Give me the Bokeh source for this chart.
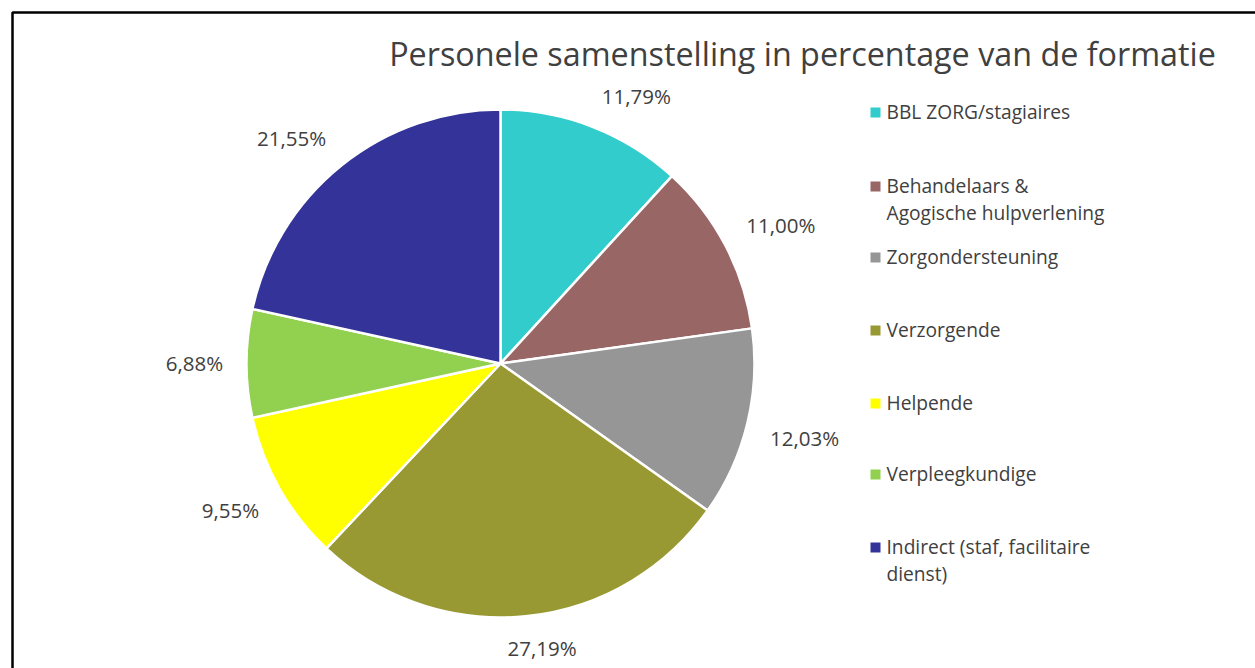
import math
from bokeh.plotting import figure
from bokeh.models import Range1d
from bokeh.core.properties import value
from bokeh.embed import file_html
from bokeh.resources import INLINE

title = "Personele samenstelling in percentage van de formatie"
categories = [
    "BBL ZORG/stagiaires",
    "Behandelaars &\nAgogische hulpverlening",
    "Zorgondersteuning",
    "Verzorgende",
    "Helpende",
    "Verpleegkundige",
    "Indirect (staf, facilitaire\ndienst)",
]
percentages = [11.79, 11.00, 12.03, 27.19, 9.55, 6.88, 21.55]
pct_labels = ["11,79%", "11,00%", "12,03%", "27,19%", "9,55%", "6,88%", "21,55%"]
colors = ["#33CCCC", "#996666", "#969696", "#999933", "#FFFF00", "#92D050", "#333399"]

FONT = "Open Sans"
TXT = "#404040"
W, H = 1255, 668

p = figure(width=W, height=H, output_backend="svg", toolbar_location=None,
           x_range=Range1d(0, W), y_range=Range1d(0, H),
           min_border=0, outline_line_color=None)
p.axis.visible = False
p.grid.visible = False

def Y(img_y):
    return H - img_y

# frame (cropped border)
p.line(x=[12, 12, 1270], y=[Y(690), Y(12), Y(12)], line_color="black", line_width=2.5)

# pie
cx, cy, r = 500, Y(363), 254
total = sum(percentages)
starts, ends, mids = [], [], []
acc = 0.0
for v in percentages:
    a0 = math.pi / 2 - 2 * math.pi * acc / total
    acc += v
    a1 = math.pi / 2 - 2 * math.pi * acc / total
    starts.append(a1)
    ends.append(a0)
    mids.append((a0 + a1) / 2)

p.wedge(x=[cx] * len(percentages), y=[cy] * len(percentages), radius=r,
        start_angle=starts, end_angle=ends, fill_color=colors,
        line_color="white", line_width=2.5)

# data labels outside end
def clip1(t):
    return max(-1.0, min(1.0, t))

lx, ly = [], []
for lab, m in zip(pct_labels, mids):
    hw = len(lab) * 6.0
    hh = 10
    u, v = math.cos(m), math.sin(m)
    R = r + 22
    lx.append(cx + R * u + hw * clip1(4 * u))
    ly.append(cy + R * v + hh * clip1(4 * v))
p.text(x=lx, y=ly, text=pct_labels, text_font=value(FONT), text_font_size="20.5px",
       text_color=TXT, text_align="center", text_baseline="middle")

# title
p.text(x=[802], y=[Y(52)], text=[title], text_font=value(FONT), text_font_size="32.3px",
       text_color=TXT, text_align="center", text_baseline="middle")

# legend
leg_y = [111, 185, 256, 329, 402, 473, 546]
sq_x, sq_y, tx, ty, tt = [], [], [], [], []
for cat, yy in zip(categories, leg_y):
    sq_x.append(875)
    sq_y.append(Y(yy + 1))
    for i, line in enumerate(cat.split("\n")):
        tx.append(886)
        ty.append(Y(yy + 27 * i))
        tt.append(line)
p.rect(x=sq_x, y=sq_y, width=10, height=10, fill_color=colors, line_color=None)
p.text(x=tx, y=ty, text=tt, text_font=value(FONT), text_font_size="19.2px",
       text_color=TXT, text_align="left", text_baseline="middle")

open("out.html", "w").write(file_html(p, INLINE))
